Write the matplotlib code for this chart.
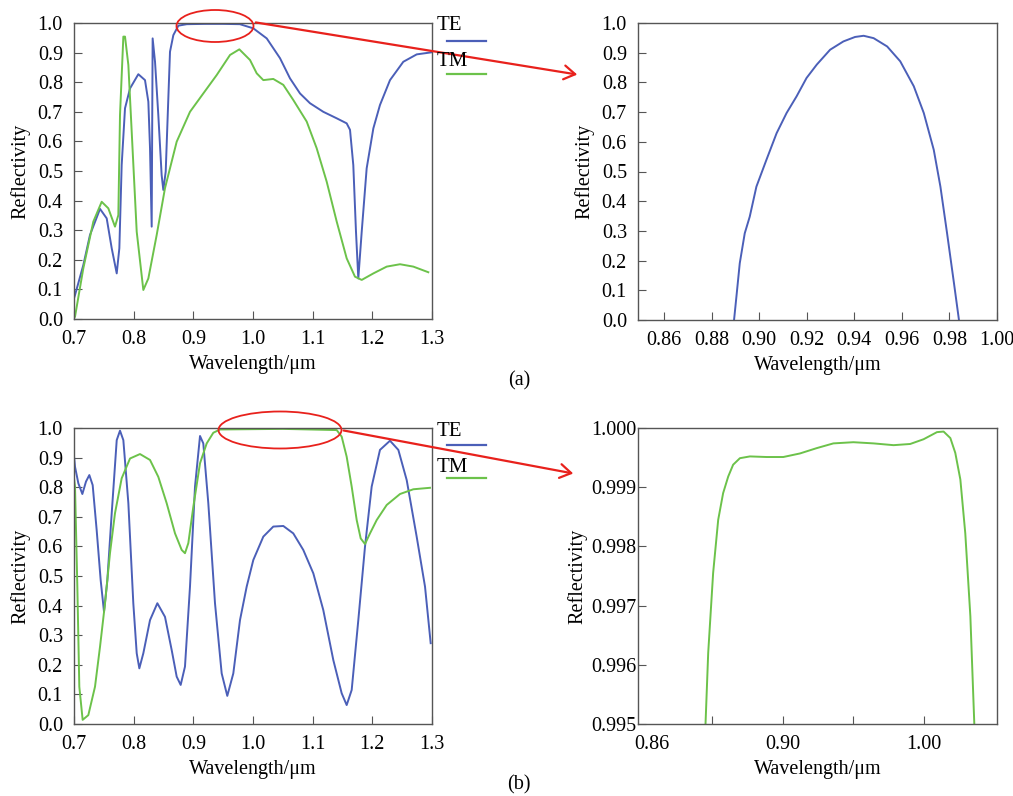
import matplotlib
matplotlib.use('Agg')
import matplotlib.pyplot as plt
from matplotlib.patches import Ellipse, FancyArrowPatch
from matplotlib.lines import Line2D
from matplotlib.ticker import FormatStrFormatter
import numpy as np

plt.rcParams['font.family'] = ['Liberation Serif', 'DejaVu Serif']
plt.rcParams['font.size'] = 14.5

W, H = 1013, 796
BLUE = '#4b5fb8'
GREEN = '#6cc24a'
RED = '#e8211c'

# ---- (a) full spectrum ----
a_te_x = [0.7000, 0.7017, 0.7156, 0.7268, 0.7436, 0.7548, 0.7632, 0.7716, 0.7760, 0.7799,
          0.7855, 0.7939, 0.8078, 0.8190, 0.8246, 0.8274, 0.8302, 0.8318, 0.8358, 0.8413,
          0.8469, 0.8497, 0.8537, 0.8581, 0.8609, 0.8665, 0.8749, 0.8890, 0.9200, 0.9500,
          0.9780, 1.0005, 1.0230, 1.0453, 1.0620, 1.0788, 1.0955, 1.1178, 1.1403, 1.1570,
          1.1626, 1.1681, 1.1726, 1.1765, 1.1822, 1.1905, 1.2017, 1.2128, 1.2296, 1.2519,
          1.2744, 1.2995]
a_te_y = [0.070, 0.081, 0.182, 0.284, 0.372, 0.340, 0.239, 0.154, 0.239, 0.520,
          0.712, 0.779, 0.827, 0.807, 0.734, 0.577, 0.312, 0.948, 0.869, 0.689,
          0.486, 0.436, 0.498, 0.746, 0.903, 0.959, 0.991, 0.996, 0.997, 0.997,
          0.996, 0.982, 0.948, 0.881, 0.813, 0.762, 0.729, 0.700, 0.678, 0.661,
          0.639, 0.520, 0.295, 0.137, 0.295, 0.509, 0.644, 0.723, 0.807, 0.869,
          0.894, 0.901]
a_tm_x = [0.7000, 0.7017, 0.7156, 0.7324, 0.7464, 0.7575, 0.7687, 0.7743, 0.7771, 0.7827,
          0.7855, 0.7911, 0.7967, 0.8051, 0.8162, 0.8246, 0.8386, 0.8525, 0.8721, 0.8944,
          0.9167, 0.9391, 0.9615, 0.9771, 0.9950, 1.0062, 1.0173, 1.0340, 1.0508, 1.0675,
          1.0900, 1.1067, 1.1235, 1.1403, 1.1570, 1.1709, 1.1822, 1.2017, 1.2241, 1.2464,
          1.2687, 1.2938]
a_tm_y = [0.003, 0.008, 0.171, 0.329, 0.396, 0.374, 0.312, 0.351, 0.689, 0.954,
          0.954, 0.858, 0.633, 0.295, 0.098, 0.137, 0.284, 0.442, 0.599, 0.700,
          0.762, 0.824, 0.892, 0.911, 0.875, 0.830, 0.807, 0.811, 0.791, 0.740,
          0.667, 0.577, 0.464, 0.329, 0.205, 0.143, 0.132, 0.154, 0.177, 0.185,
          0.177, 0.158]

# ---- (a) zoom, TE ----
a_zoom_x = [0.8894, 0.8904, 0.8918, 0.8939, 0.8960, 0.8988, 0.9030, 0.9073, 0.9115, 0.9157,
            0.9199, 0.9242, 0.9298, 0.9354, 0.9403, 0.9439, 0.9481, 0.9538, 0.9593, 0.9650,
            0.9692, 0.9734, 0.9762, 0.9790, 0.9819, 0.9840]
a_zoom_y = [0.0, 0.079, 0.191, 0.292, 0.348, 0.449, 0.539, 0.629, 0.697, 0.753,
            0.815, 0.860, 0.910, 0.938, 0.953, 0.957, 0.949, 0.921, 0.871, 0.787,
            0.697, 0.573, 0.449, 0.292, 0.124, 0.0]

# ---- (b) full spectrum ----
b_te_x = [0.7000, 0.7017, 0.7073, 0.7140, 0.7201, 0.7257, 0.7313, 0.7380, 0.7447, 0.7503,
          0.7559, 0.7632, 0.7716, 0.7771, 0.7827, 0.7911, 0.7994, 0.8051, 0.8095, 0.8162,
          0.8274, 0.8397, 0.8525, 0.8637, 0.8721, 0.8788, 0.8860, 0.8944, 0.9028, 0.9112,
          0.9167, 0.9251, 0.9363, 0.9475, 0.9569, 0.9670, 0.9782, 0.9894, 1.0005, 1.0173,
          1.0340, 1.0508, 1.0675, 1.0843, 1.1011, 1.1178, 1.1346, 1.1486, 1.1570, 1.1654,
          1.1765, 1.1877, 1.1989, 1.2128, 1.2296, 1.2436, 1.2576, 1.2743, 1.2883, 1.2978]
b_te_y = [0.905, 0.869, 0.813, 0.777, 0.819, 0.841, 0.807, 0.655, 0.486, 0.379,
          0.486, 0.712, 0.959, 0.991, 0.959, 0.746, 0.408, 0.239, 0.188, 0.239,
          0.351, 0.408, 0.362, 0.250, 0.160, 0.132, 0.194, 0.464, 0.802, 0.973,
          0.948, 0.746, 0.408, 0.171, 0.095, 0.171, 0.351, 0.464, 0.554, 0.633,
          0.667, 0.669, 0.644, 0.588, 0.509, 0.385, 0.216, 0.104, 0.064, 0.115,
          0.351, 0.599, 0.802, 0.926, 0.957, 0.926, 0.824, 0.633, 0.464, 0.273]
b_tm_x = [0.7000, 0.7017, 0.7056, 0.7089, 0.7145, 0.7240, 0.7352, 0.7436, 0.7520, 0.7603,
          0.7687, 0.7799, 0.7939, 0.8106, 0.8274, 0.8413, 0.8553, 0.8693, 0.8805, 0.8860,
          0.8916, 0.9000, 0.9112, 0.9224, 0.9335, 0.9447, 1.0500, 1.1403, 1.1486, 1.1570,
          1.1654, 1.1738, 1.1805, 1.1877, 1.1961, 1.2073, 1.2241, 1.2464, 1.2687, 1.2966]
b_tm_y = [0.830, 0.802, 0.464, 0.126, 0.014, 0.030, 0.126, 0.261, 0.408, 0.577,
          0.712, 0.830, 0.897, 0.912, 0.892, 0.835, 0.746, 0.644, 0.588, 0.577,
          0.611, 0.734, 0.881, 0.948, 0.984, 0.995, 0.997, 0.993, 0.971, 0.903,
          0.802, 0.689, 0.627, 0.608, 0.644, 0.689, 0.740, 0.777, 0.793, 0.798]

# ---- (b) zoom, TM ----
b_zoom_x = [0.8453, 0.8472, 0.8507, 0.8543, 0.8578, 0.8614, 0.8649, 0.8697, 0.8768, 0.8886,
            0.9005, 0.9123, 0.9242, 0.9360, 0.9502, 0.9645, 0.9787, 0.9905, 1.0000, 1.0095,
            1.0142, 1.0190, 1.0225, 1.0261, 1.0296, 1.0332, 1.0360]
b_zoom_y = [0.99500, 0.99620, 0.99755, 0.99845, 0.99890, 0.99918, 0.99938, 0.99949, 0.99952,
            0.99951, 0.99951, 0.99957, 0.99966, 0.99974, 0.99976, 0.99974, 0.99971, 0.99973,
            0.99981, 0.99993, 0.99994, 0.99983, 0.99958, 0.99913, 0.99822, 0.99682, 0.99500]


def px_axes(fig, x0, y0, x1, y1):
    """axes from pixel box (left, top, right, bottom)"""
    return fig.add_axes([x0 / W, 1 - y1 / H, (x1 - x0) / W, (y1 - y0) / H])


def style(ax):
    for s in ax.spines.values():
        s.set_color('#555555')
        s.set_linewidth(1.0)
    ax.tick_params(direction='in', length=6, color='#555555', labelsize=14.5)
    ax.tick_params(axis='x', pad=8)
    ax.tick_params(axis='y', pad=8)
    ax.set_xlabel('Wavelength/\u03bcm', fontsize=14.5, labelpad=4)
    ax.set_ylabel('Reflectivity', fontsize=14.5, labelpad=5)


def fpt(x, y):
    return (x / W, 1 - y / H)


fig = plt.figure(figsize=(W / 100, H / 100), dpi=100)

# (a) left
ax1 = px_axes(fig, 74, 23, 432, 319)
ax1.plot(a_te_x, a_te_y, color=BLUE, lw=1.4, solid_joinstyle='round')
ax1.plot(a_tm_x, a_tm_y, color=GREEN, lw=1.4, solid_joinstyle='round')
ax1.set_xlim(0.7, 1.3)
ax1.set_ylim(0, 1.0)
ax1.set_xticks(np.arange(0.7, 1.31, 0.1))
ax1.set_yticks(np.arange(0, 1.01, 0.1))
ax1.xaxis.set_major_formatter(FormatStrFormatter('%.1f'))
ax1.yaxis.set_major_formatter(FormatStrFormatter('%.1f'))
style(ax1)

# (a) right
ax2 = px_axes(fig, 638, 23, 997, 320)
ax2.plot(a_zoom_x, a_zoom_y, color=BLUE, lw=1.4, solid_joinstyle='round')
ax2.set_xlim(0.849, 1.0)
ax2.set_ylim(0, 1.0)
ax2.set_xticks(np.arange(0.86, 1.001, 0.02))
ax2.set_yticks(np.arange(0, 1.01, 0.1))
ax2.xaxis.set_major_formatter(FormatStrFormatter('%.2f'))
ax2.yaxis.set_major_formatter(FormatStrFormatter('%.1f'))
style(ax2)

# (b) left
ax3 = px_axes(fig, 74, 428, 432, 724)
ax3.plot(b_te_x, b_te_y, color=BLUE, lw=1.4, solid_joinstyle='round')
ax3.plot(b_tm_x, b_tm_y, color=GREEN, lw=1.4, solid_joinstyle='round')
ax3.set_xlim(0.7, 1.3)
ax3.set_ylim(0, 1.0)
ax3.set_xticks(np.arange(0.7, 1.31, 0.1))
ax3.set_yticks(np.arange(0, 1.01, 0.1))
ax3.xaxis.set_major_formatter(FormatStrFormatter('%.1f'))
ax3.yaxis.set_major_formatter(FormatStrFormatter('%.1f'))
style(ax3)

# (b) right
ax4 = px_axes(fig, 638, 428, 997, 724)
ax4.plot(b_zoom_x, b_zoom_y, color=GREEN, lw=1.4, solid_joinstyle='round')
ax4.set_xlim(0.7974, 1.0521)
ax4.set_ylim(0.995, 1.000)
ax4.set_xticks([0.85, 0.90, 0.95, 1.00])
ax4.set_xticklabels(['', '0.90', '', '1.00'])
ax4.set_yticks(np.arange(0.995, 1.0001, 0.001))
ax4.yaxis.set_major_formatter(FormatStrFormatter('%.3f'))
style(ax4)
ax4.tick_params(axis='y', pad=1)
ax4.set_ylabel('Reflectivity', fontsize=14.5, labelpad=3)
ax4.text(0.04, -0.038, '0.86', transform=ax4.transAxes, ha='center', va='top', fontsize=14.5)

# legends (text above a short line)
for ty, ly, lab, col in [(26, 41, 'TE', BLUE), (62, 74, 'TM', GREEN),
                         (432, 445, 'TE', BLUE), (467, 478, 'TM', GREEN)]:
    fig.text(437 / W, 1 - ty / H, lab, fontsize=15, ha='left', va='center')
    fig.add_artist(Line2D([447 / W, 486 / W], [1 - ly / H, 1 - ly / H], color=col, lw=1.6))

# red ellipses and arrows
fig.add_artist(Ellipse(fpt(215, 26), 77 / W, 32 / H, fill=False, edgecolor=RED, lw=1.3,
                       transform=fig.transFigure))
fig.add_artist(FancyArrowPatch(fpt(253, 22), fpt(580, 75), transform=fig.transFigure,
                               arrowstyle='->,head_length=8,head_width=5', color=RED, lw=1.6))
fig.add_artist(Ellipse(fpt(280, 430), 123 / W, 37 / H, fill=False, edgecolor=RED, lw=1.3,
                       transform=fig.transFigure))
fig.add_artist(FancyArrowPatch(fpt(341, 430), fpt(576, 474), transform=fig.transFigure,
                               arrowstyle='->,head_length=8,head_width=5', color=RED, lw=1.6))

fig.text(519 / W, 1 - 381 / H, '(a)', fontsize=14.5, ha='center', va='center')
fig.text(519 / W, 1 - 785 / H, '(b)', fontsize=14.5, ha='center', va='center')

fig.savefig('out.png', dpi=100)
